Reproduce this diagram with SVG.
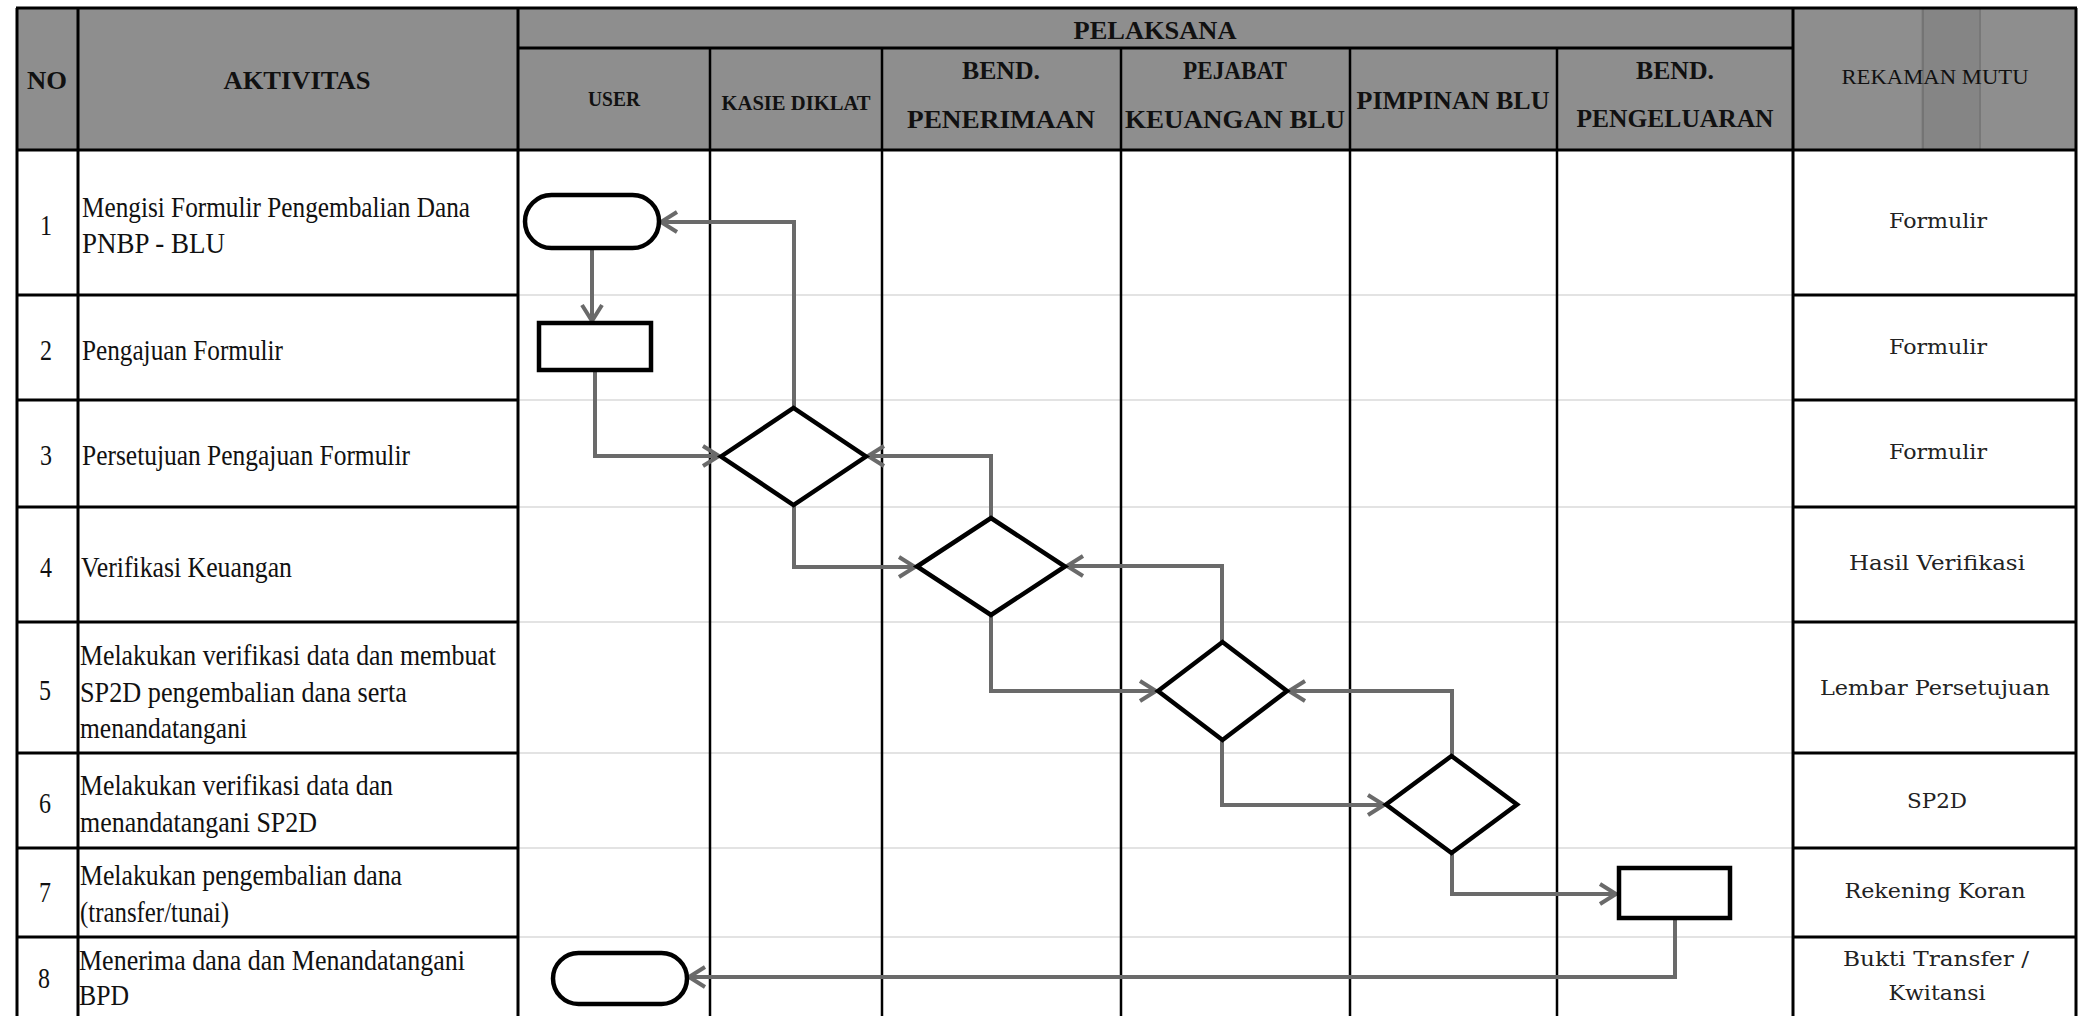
<svg xmlns="http://www.w3.org/2000/svg" width="2083" height="1016" viewBox="0 0 2083 1016">
  <style>
    .hdr { font-family: "Liberation Serif", "Times New Roman", serif; font-weight: bold; font-size: 26px; fill: #111; text-anchor: middle; }
    .hdr-s { font-family: "Liberation Serif", "Times New Roman", serif; font-weight: bold; font-size: 22px; fill: #111; text-anchor: middle; }
    .hdr-r { font-family: "Liberation Serif", "Times New Roman", serif; font-size: 22px; fill: #111; text-anchor: middle; }
    .txt { font-family: "Liberation Serif", "Times New Roman", serif; font-size: 30px; fill: #111; }
    .num { font-family: "Liberation Serif", "Times New Roman", serif; font-size: 30px; fill: #111; text-anchor: middle; }
    .rec { font-family: "DejaVu Serif", "Liberation Serif", serif; font-size: 21px; fill: #222; text-anchor: middle; }
    .grid { stroke: #000; stroke-width: 3; fill: none; }
    .lane { stroke: #000; stroke-width: 2.5; fill: none; }
    .faint { stroke: #e3e3e3; stroke-width: 2; fill: none; }
    .shape { fill: #fff; stroke: #000; stroke-width: 4.5; }
    .conn { fill: none; stroke: #6a6a6a; stroke-width: 4; marker-end: url(#arrow); }
  </style>
  <defs>
    <marker id="arrow" markerUnits="userSpaceOnUse" markerWidth="24" markerHeight="26" refX="19" refY="12" orient="auto">
      <path d="M3,2 L19,12 L3,22" fill="none" stroke="#6a6a6a" stroke-width="4" stroke-linejoin="miter"/>
    </marker>
  </defs>

  <rect x="0" y="0" width="2083" height="1016" fill="#fff"/>

  <!-- table frame -->
  <g id="table">
    <rect x="17" y="8" width="2059" height="142" fill="#8e8e8e"/>
    <rect x="1921" y="8" width="60" height="142" fill="#000" opacity="0.06"/>
    <line x1="1923" y1="8" x2="1923" y2="150" stroke="#555" stroke-width="2" opacity="0.35"/>
    <line x1="1980" y1="8" x2="1980" y2="150" stroke="#555" stroke-width="2" opacity="0.25"/>

    <!-- faint row guides across the lanes -->
    <g class="faint">
      <line x1="518" y1="295" x2="1793" y2="295"/>
      <line x1="518" y1="400" x2="1793" y2="400"/>
      <line x1="518" y1="507" x2="1793" y2="507"/>
      <line x1="518" y1="622" x2="1793" y2="622"/>
      <line x1="518" y1="753" x2="1793" y2="753"/>
      <line x1="518" y1="848" x2="1793" y2="848"/>
      <line x1="518" y1="937" x2="1793" y2="937"/>
    </g>

    <g class="grid">
      <line x1="16" y1="8" x2="2077" y2="8"/>
      <line x1="17" y1="8" x2="17" y2="1016"/>
      <line x1="2076" y1="8" x2="2076" y2="1016"/>
      <line x1="17" y1="150" x2="2076" y2="150"/>
      <line x1="518" y1="48" x2="1793" y2="48"/>
      <line x1="78" y1="8" x2="78" y2="1016"/>
      <line x1="518" y1="8" x2="518" y2="1016"/>
      <line x1="1793" y1="8" x2="1793" y2="1016"/>
      <!-- row lines, activity side -->
      <line x1="17" y1="295" x2="518" y2="295"/>
      <line x1="17" y1="400" x2="518" y2="400"/>
      <line x1="17" y1="507" x2="518" y2="507"/>
      <line x1="17" y1="622" x2="518" y2="622"/>
      <line x1="17" y1="753" x2="518" y2="753"/>
      <line x1="17" y1="848" x2="518" y2="848"/>
      <line x1="17" y1="937" x2="518" y2="937"/>
      <!-- row lines, record side -->
      <line x1="1793" y1="295" x2="2076" y2="295"/>
      <line x1="1793" y1="400" x2="2076" y2="400"/>
      <line x1="1793" y1="507" x2="2076" y2="507"/>
      <line x1="1793" y1="622" x2="2076" y2="622"/>
      <line x1="1793" y1="753" x2="2076" y2="753"/>
      <line x1="1793" y1="848" x2="2076" y2="848"/>
      <line x1="1793" y1="937" x2="2076" y2="937"/>
    </g>
    <g class="lane">
      <line x1="710" y1="48" x2="710" y2="1016"/>
      <line x1="882" y1="48" x2="882" y2="1016"/>
      <line x1="1121" y1="48" x2="1121" y2="1016"/>
      <line x1="1350" y1="48" x2="1350" y2="1016"/>
      <line x1="1557" y1="48" x2="1557" y2="1016"/>
    </g>
  </g>

  <!-- header labels -->
  <g id="header">
    <text class="hdr" x="47" y="89" textLength="40" lengthAdjust="spacingAndGlyphs">NO</text>
    <text class="hdr" x="297" y="89" textLength="147" lengthAdjust="spacingAndGlyphs">AKTIVITAS</text>
    <text class="hdr" x="1155" y="39" textLength="163" lengthAdjust="spacingAndGlyphs">PELAKSANA</text>
    <text class="hdr-s" x="614" y="106" textLength="52" lengthAdjust="spacingAndGlyphs">USER</text>
    <text class="hdr-s" x="796" y="110" textLength="149" lengthAdjust="spacingAndGlyphs">KASIE DIKLAT</text>
    <text class="hdr" x="1001" y="79" textLength="78" lengthAdjust="spacingAndGlyphs">BEND.</text>
    <text class="hdr" x="1001" y="128" textLength="188" lengthAdjust="spacingAndGlyphs">PENERIMAAN</text>
    <text class="hdr" x="1235" y="79" textLength="104" lengthAdjust="spacingAndGlyphs">PEJABAT</text>
    <text class="hdr" x="1235" y="128" textLength="220" lengthAdjust="spacingAndGlyphs">KEUANGAN BLU</text>
    <text class="hdr" x="1453" y="109" textLength="193" lengthAdjust="spacingAndGlyphs">PIMPINAN BLU</text>
    <text class="hdr" x="1675" y="79" textLength="78" lengthAdjust="spacingAndGlyphs">BEND.</text>
    <text class="hdr" x="1675" y="127" textLength="197" lengthAdjust="spacingAndGlyphs">PENGELUARAN</text>
    <text class="hdr-r" x="1935" y="84" textLength="187" lengthAdjust="spacingAndGlyphs">REKAMAN MUTU</text>
  </g>

  <!-- step numbers -->
  <g id="numbers">
    <text class="num" x="46" y="235" textLength="12" lengthAdjust="spacingAndGlyphs">1</text>
    <text class="num" x="46" y="360" textLength="12" lengthAdjust="spacingAndGlyphs">2</text>
    <text class="num" x="46" y="465" textLength="12" lengthAdjust="spacingAndGlyphs">3</text>
    <text class="num" x="46" y="577" textLength="12" lengthAdjust="spacingAndGlyphs">4</text>
    <text class="num" x="45" y="700" textLength="12" lengthAdjust="spacingAndGlyphs">5</text>
    <text class="num" x="45" y="813" textLength="12" lengthAdjust="spacingAndGlyphs">6</text>
    <text class="num" x="45" y="902" textLength="12" lengthAdjust="spacingAndGlyphs">7</text>
    <text class="num" x="44" y="988" textLength="12" lengthAdjust="spacingAndGlyphs">8</text>
  </g>

  <!-- activity descriptions -->
  <g id="activities">
    <text class="txt" x="82" y="217" textLength="388" lengthAdjust="spacingAndGlyphs">Mengisi Formulir Pengembalian Dana</text>
    <text class="txt" x="82" y="253" textLength="143" lengthAdjust="spacingAndGlyphs">PNBP - BLU</text>
    <text class="txt" x="82" y="360" textLength="201" lengthAdjust="spacingAndGlyphs">Pengajuan Formulir</text>
    <text class="txt" x="82" y="465" textLength="328" lengthAdjust="spacingAndGlyphs">Persetujuan Pengajuan Formulir</text>
    <text class="txt" x="81" y="577" textLength="211" lengthAdjust="spacingAndGlyphs">Verifikasi Keuangan</text>
    <text class="txt" x="80" y="665" textLength="416" lengthAdjust="spacingAndGlyphs">Melakukan verifikasi data dan membuat</text>
    <text class="txt" x="80" y="702" textLength="327" lengthAdjust="spacingAndGlyphs">SP2D pengembalian dana serta</text>
    <text class="txt" x="80" y="738" textLength="167" lengthAdjust="spacingAndGlyphs">menandatangani</text>
    <text class="txt" x="80" y="795" textLength="313" lengthAdjust="spacingAndGlyphs">Melakukan verifikasi data dan</text>
    <text class="txt" x="80" y="832" textLength="237" lengthAdjust="spacingAndGlyphs">menandatangani SP2D</text>
    <text class="txt" x="80" y="885" textLength="322" lengthAdjust="spacingAndGlyphs">Melakukan pengembalian dana</text>
    <text class="txt" x="80" y="922" textLength="149" lengthAdjust="spacingAndGlyphs">(transfer/tunai)</text>
    <text class="txt" x="79" y="970" textLength="386" lengthAdjust="spacingAndGlyphs">Menerima dana dan Menandatangani</text>
    <text class="txt" x="79" y="1005" textLength="50" lengthAdjust="spacingAndGlyphs">BPD</text>
  </g>

  <!-- quality records -->
  <g id="records">
    <text class="rec" x="1938" y="228" textLength="98" lengthAdjust="spacingAndGlyphs">Formulir</text>
    <text class="rec" x="1938" y="354" textLength="98" lengthAdjust="spacingAndGlyphs">Formulir</text>
    <text class="rec" x="1938" y="459" textLength="98" lengthAdjust="spacingAndGlyphs">Formulir</text>
    <text class="rec" x="1937" y="570" textLength="176" lengthAdjust="spacingAndGlyphs">Hasil Verifikasi</text>
    <text class="rec" x="1935" y="695" textLength="230" lengthAdjust="spacingAndGlyphs">Lembar Persetujuan</text>
    <text class="rec" x="1937" y="808" textLength="60" lengthAdjust="spacingAndGlyphs">SP2D</text>
    <text class="rec" x="1935" y="898" textLength="181" lengthAdjust="spacingAndGlyphs">Rekening Koran</text>
    <text class="rec" x="1936" y="966" textLength="186" lengthAdjust="spacingAndGlyphs">Bukti Transfer /</text>
    <text class="rec" x="1937" y="1000" textLength="97" lengthAdjust="spacingAndGlyphs">Kwitansi</text>
  </g>

  <!-- connectors -->
  <g id="connectors">
    <path class="conn" d="M592,248 L592,321"/>
    <path class="conn" d="M595,370 L595,456 L719,456"/>
    <path class="conn" d="M794,408 L794,222 L661,222"/>
    <path class="conn" d="M794,505 L794,567 L915,567"/>
    <path class="conn" d="M991,518 L991,456 L868,456"/>
    <path class="conn" d="M991,615 L991,691 L1156,691"/>
    <path class="conn" d="M1222,642 L1222,566 L1067,566"/>
    <path class="conn" d="M1222,740 L1222,805 L1384,805"/>
    <path class="conn" d="M1452,756 L1452,691 L1289,691"/>
    <path class="conn" d="M1452,853 L1452,894 L1616,894"/>
    <path class="conn" d="M1675,918 L1675,977 L689,977"/>
  </g>

  <!-- flow nodes -->
  <g id="start-user">
    <rect class="shape" x="525" y="195" width="134" height="53" rx="26.5"/>
  </g>
  <g id="submit-user">
    <rect class="shape" x="539" y="323" width="112" height="47"/>
  </g>
  <g id="approve-kasie">
    <polygon class="shape" points="721,456.5 793.5,408 866,456.5 793.5,505"/>
  </g>
  <g id="verify-bend-penerimaan">
    <polygon class="shape" points="917,566.5 991,518 1065,566.5 991,615"/>
  </g>
  <g id="verify-pejabat">
    <polygon class="shape" points="1158,691 1222.5,642 1287,691 1222.5,740"/>
  </g>
  <g id="sign-pimpinan">
    <polygon class="shape" points="1386,804.5 1451.5,756 1517,804.5 1451.5,853"/>
  </g>
  <g id="pay-bend-pengeluaran">
    <rect class="shape" x="1619" y="868" width="111" height="50"/>
  </g>
  <g id="end-user">
    <rect class="shape" x="553" y="953" width="134" height="51" rx="25.5"/>
  </g>
</svg>
